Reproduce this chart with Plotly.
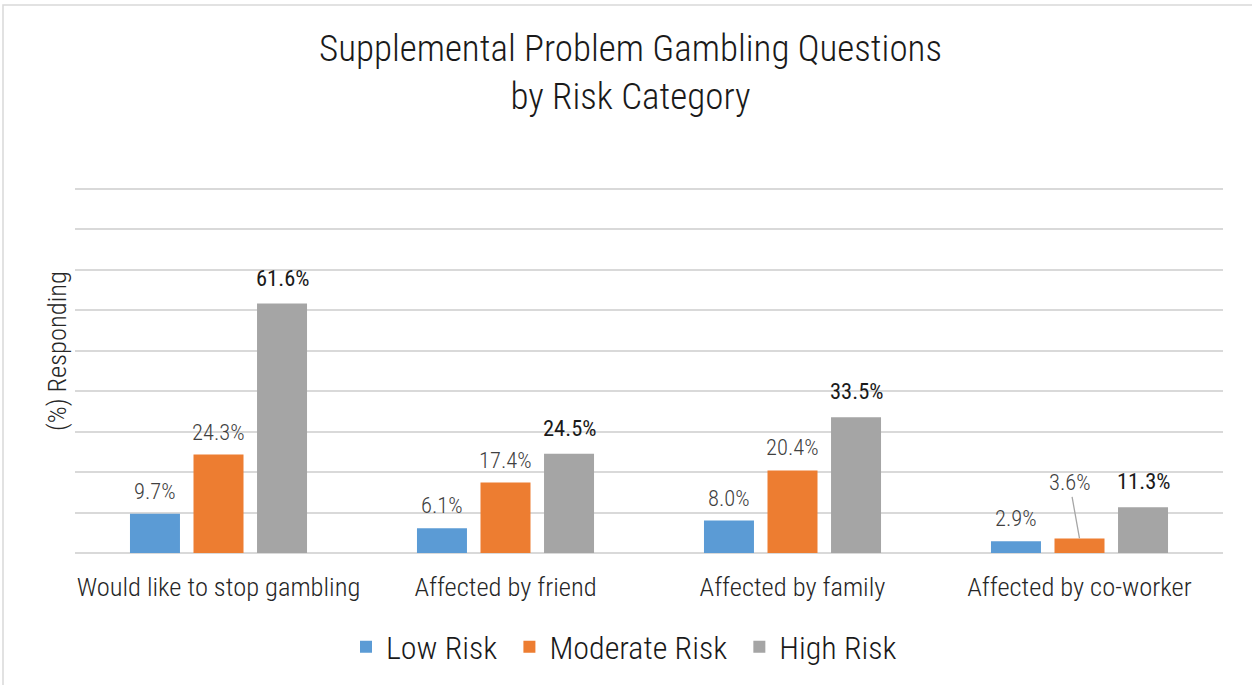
import plotly.graph_objects as go

categories = ["Would like to stop gambling", "Affected by friend", "Affected by family", "Affected by co-worker"]
series_names = ["Low Risk", "Moderate Risk", "High Risk"]
low_risk = [9.7, 6.1, 8.0, 2.9]
moderate_risk = [24.3, 17.4, 20.4, 3.6]
high_risk = [61.6, 24.5, 33.5, 11.3]
colors = ["#5B9BD5", "#ED7D31", "#A5A5A5"]

FONT = "Roboto Condensed, Liberation Sans Narrow, DejaVu Sans Condensed, Roboto, sans-serif"

fig = go.Figure()
all_series = [low_risk, moderate_risk, high_risk]
legend_pad = ["\u00a0", "\u00a0", ""]
for name, vals, col, pad in zip(series_names, all_series, colors, legend_pad):
    fig.add_trace(go.Bar(name=name + pad, x=categories, y=vals, marker=dict(color=col, line=dict(width=0))))

offsets = [-64, 0, 64]
annotations = []
for si, vals in enumerate(all_series):
    for ci, v in enumerate(vals):
        bold = si == 2
        txt = f"{v:.1f}%"
        if si == 1 and ci == 3:
            annotations.append(dict(x=categories[ci], y=v, xref="x", yref="y", text=txt,
                                    xshift=offsets[si], showarrow=True, arrowhead=0, arrowwidth=1.3,
                                    arrowcolor="#A6A6A6", ax=-10, ay=-56,
                                    font=dict(family=FONT, size=22.5, color="#404040", weight=300)))
            continue
        annotations.append(dict(x=categories[ci], y=v, xref="x", yref="y", text=txt,
                                xshift=offsets[si], yshift=11 if bold else 8, yanchor="bottom",
                                showarrow=False,
                                font=dict(family=FONT, size=22.5, color="#1a1a1a" if bold else "#404040",
                                          weight=400 if bold else 300)))

annotations.append(dict(text="Supplemental Problem Gambling Questions<br>by Risk Category",
                        xref="paper", yref="paper", x=(630 - 75) / 1148, y=(553 - 72) / 405,
                        xanchor="center", yanchor="middle", showarrow=False,
                        font=dict(family=FONT, size=37, color="#1a1a1a", weight=300)))
annotations.append(dict(text="(%) Responding", textangle=-90,
                        xref="paper", yref="paper", x=(56 - 75) / 1148, y=(553 - 351) / 405,
                        xanchor="center", yanchor="middle", showarrow=False,
                        font=dict(family=FONT, size=26.5, color="#262626", weight=300)))

fig.update_layout(
    width=1252, height=685,
    margin=dict(l=75, r=29, t=148, b=132),
    paper_bgcolor="white", plot_bgcolor="white",
    barmode="group", bargap=0.336, bargroupgap=0.213,
    showlegend=True,
    legend=dict(orientation="h", x=0.5 - 25 / 1148, xanchor="center", y=1 - 647 / 685, yanchor="middle",
                yref="container",
                font=dict(family=FONT, size=32, color="#1a1a1a", weight=300),
                itemsizing="constant", traceorder="normal"),
    annotations=annotations,
    font=dict(family=FONT, color="#404040"),
)
fig.update_xaxes(showgrid=False, showline=False, ticks="", zeroline=False, automargin=False,
                 ticklabelstandoff=15,
                 tickfont=dict(family=FONT, size=26.5, color="#262626", weight=300))
fig.update_yaxes(range=[0, 100], dtick=10, showgrid=True, gridcolor="#D9D9D9", gridwidth=2,
                 showticklabels=False, zeroline=True, zerolinecolor="#D9D9D9", zerolinewidth=2,
                 automargin=False)
fig.add_shape(type="rect", xref="paper", yref="paper",
              x0=(3 - 75) / 1148, x1=(1300 - 75) / 1148, y0=(553 - 720) / 405, y1=(553 - 5) / 405,
              line=dict(color="#D9D9D9", width=1.5), layer="below")

fig.write_html("out.html", config={"displayModeBar": False},
               post_script="document.body.style.margin='0';")
